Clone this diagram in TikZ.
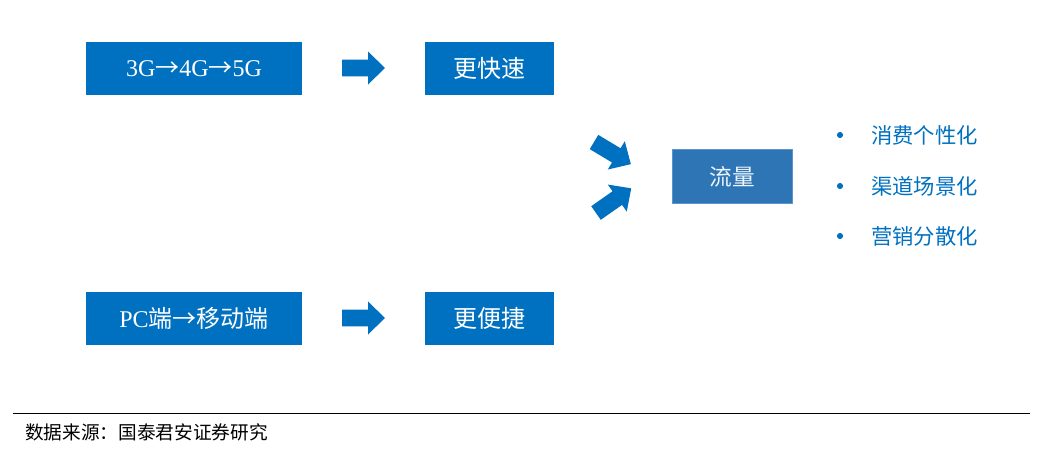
\documentclass[tikz,border=0pt]{standalone}
\usepackage{fontspec}
\setmainfont{Liberation Serif}
\newfontfamily\cjk{Noto Sans CJK SC}
\usetikzlibrary{positioning}
\definecolor{boxblue}{HTML}{0070C0}
\definecolor{flowblue}{HTML}{2E75B6}
\definecolor{flowedge}{HTML}{5B95CE}
\newcommand{\towards}{{\cjk →}}
\tikzset{
  bluebox/.style={fill=boxblue, text=white, inner sep=0pt, minimum height=39.75pt,
    font=\fontsize{18}{20}\selectfont},
  widebox/.style={bluebox, minimum width=162pt},
  narrowbox/.style={bluebox, minimum width=96.75pt},
  pics/blockarrow/.style={code={
    \fill[boxblue] (0,-8.3) -- (26,-8.3) -- (26,-16.5) -- (43,0) -- (26,16.5) -- (26,8.3) -- (0,8.3) -- cycle;}}
}
\begin{document}
\begin{tikzpicture}[x=0.75pt, y=-0.75pt]
  \useasboundingbox (0,0) rectangle (1058,461);

  \node[widebox] (network) at (194,68.5) {3G\towards4G\towards5G};
  \node[narrowbox] (faster) at (489.5,68.5) {\cjk 更快速};
  \node[widebox] (device) at (194,318.5) {PC{\cjk 端}\towards{\cjk 移动端}};
  \node[narrowbox] (easier) at (489.5,318.5) {\cjk 更便捷};

  \pic (toFaster) at (342,68) {blockarrow};
  \pic (toEasier) at (342,318) {blockarrow};
  \pic[rotate=-31] (fromTop) at (594,142) {blockarrow};
  \pic[rotate=35] (fromBottom) at (596,213) {blockarrow};

  \node[fill=flowblue, draw=flowedge, line width=0.6pt, text=white!92!flowblue,
    minimum width=89.6pt, minimum height=40.5pt, inner sep=0pt,
    font=\cjk\fontsize{17}{19}\selectfont] (flow) at (732.5,176.5) {流量};

  \foreach \y/\txt in {135/消费个性化, 186/渠道场景化, 236/营销分散化} {
    \fill[boxblue] (840,\y) circle (2.3pt);
    \node[anchor=west, inner sep=0pt, text=boxblue, font=\cjk\fontsize{16}{18}\selectfont]
      (trend\y) at (871,\y) {\txt};
  }

  \draw[line width=0.75pt] (13,413) -- (1030,413);
  \node[anchor=west, inner sep=0pt, font=\cjk\fontsize{14}{16}\selectfont] (source) at (25,432)
    {数据来源：国泰君安证券研究};
\end{tikzpicture}
\end{document}
